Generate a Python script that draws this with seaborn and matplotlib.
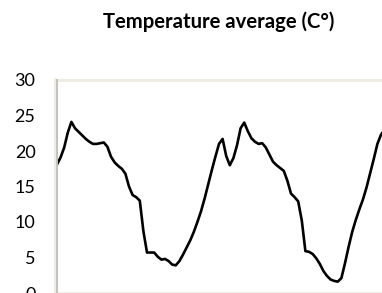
import numpy as np
import pandas as pd
import matplotlib
matplotlib.use("Agg")
import matplotlib.pyplot as plt
import seaborn as sns
from matplotlib.lines import Line2D

# Data (no x labels in the chart; uniform sample index)
temperature = [
    18.1, 19.1, 20.5, 22.6, 24.1, 23.2, 22.7, 22.2, 21.7, 21.3,
    21.0, 21.0, 21.1, 21.2, 20.6, 19.2, 18.4, 17.9, 17.5, 16.8,
    15.0, 13.8, 13.5, 13.0, 8.7, 5.7, 5.7, 5.7, 5.1, 4.7,
    4.8, 4.5, 4.0, 3.9, 4.5, 5.4, 6.4, 7.4, 8.6, 10.0,
    11.5, 13.3, 15.3, 17.3, 19.2, 21.0, 21.7, 19.3, 18.0, 19.0,
    20.8, 23.2, 24.0, 22.8, 21.8, 21.3, 21.0, 21.1, 20.5, 19.5,
    18.5, 18.0, 17.6, 17.2, 15.8, 14.0, 13.5, 12.9, 10.2, 5.9,
    5.8, 5.5, 4.9, 4.1, 3.1, 2.4, 1.9, 1.7, 1.6, 2.1,
    4.2, 6.5, 8.6, 10.3, 11.8, 13.2, 14.9, 16.9, 18.9, 21.0,
    22.3, 23.0,
]
sample = list(range(len(temperature)))
y_ticks = [0, 5, 10, 15, 20, 25, 30]
title = "Temperature average (C°)"

df = pd.DataFrame({"sample": sample, "temperature": temperature})

sns.set_style("white")
plt.rcParams["font.family"] = ["Lato", "DejaVu Sans"]
plt.rcParams["lines.solid_joinstyle"] = "round"

W, H = 382, 293
fig = plt.figure(figsize=(W / 100, H / 100), dpi=100)

# axes in pixel terms: left 57, top 80 (value 30), bottom 293 (value 0)
px_per_step = 3.6
n_steps_axes = 95
left_px, top_px, bottom_px = 57, 80, 293
right_px = left_px + px_per_step * n_steps_axes
ax = fig.add_axes([left_px / W, 1 - bottom_px / H,
                   (right_px - left_px) / W, (bottom_px - top_px) / H])

sns.lineplot(data=df, x="sample", y="temperature", ax=ax,
             color="black", linewidth=1.9, legend=False)

ax.set_xlim(0, n_steps_axes)
ax.set_ylim(0, 30)
ax.set_yticks(y_ticks)
ax.set_yticklabels([str(t) for t in y_ticks], fontsize=13, color="black")
ax.set_xticks([])
ax.tick_params(axis="y", length=0, pad=15.5)
ax.set_xlabel("")
ax.set_ylabel("")

beige = "#EEECE1"
for side in ["top", "bottom", "right"]:
    ax.spines[side].set_color(beige)
    ax.spines[side].set_linewidth(2.2)
ax.spines["left"].set_color("#BFBFBF")
ax.spines["left"].set_linewidth(1.4)
ax.spines["left"].set_zorder(5)

# beige frame strip just outside the left axis line
fig.add_artist(Line2D([(left_px - 2) / W, (left_px - 2) / W],
                      [0, 1 - (top_px - 1.5) / H],
                      color=beige, linewidth=1.6, transform=fig.transFigure))

fig.text(219 / W, 1 - 28.5 / H, title, ha="center", va="baseline",
         fontsize=14.6, fontweight="bold", color="black")

fig.savefig("out.png", dpi=100)
